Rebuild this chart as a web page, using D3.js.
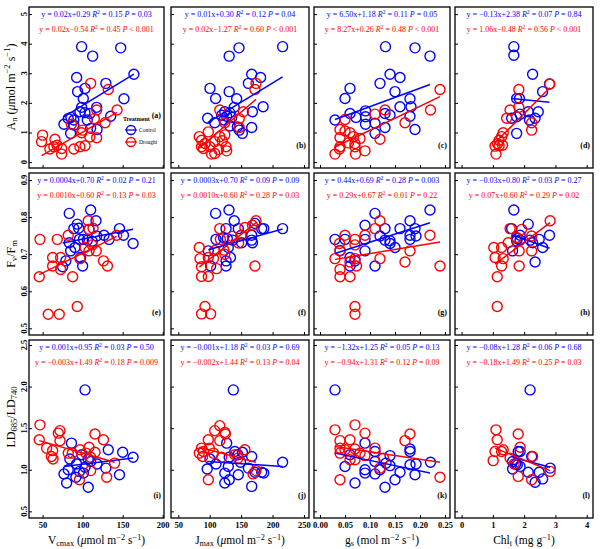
<!DOCTYPE html>
<html><head><meta charset="utf-8">
<script src="https://cdn.jsdelivr.net/npm/d3@7"></script>
<style>
body{margin:0;background:#fff}
svg{display:block}
text{font-family:"Liberation Serif","Times New Roman",serif}
</style></head>
<body><svg id="c" width="600" height="549"></svg>
<script>
// ---------- data ----------
const panelLetters = ["a","b","c","d","e","f","g","h","i","j","k","l"];
const xTicksV = [50,100,150,200];
const xTicksJ = [50,100,150,200,250];
const xTicksG = [0,0.05,0.10,0.15,0.20,0.25];
const xTicksC = [0,1,2,3,4];
const yTicksA = [0,1,2,3,4,5];
const yTicksF = [0.5,0.6,0.7,0.8,0.9];
const yTicksL = [0.5,1.0,1.5,2.0,2.5];

const a_ctrl = [[98.7,3.90],[112.5,3.58],[147.5,3.86],[164,2.97],[92.5,2.86],[129,2.66],[103,2.49],[93.7,2.38],[100.8,2.15],[151.6,2.14],[98.7,1.85],[117.5,1.85],[96.6,1.70],[102.9,1.67],[109,1.64],[135,1.55],[85.4,1.51],[82,1.47],[89,1.42],[76.6,1.28],[89,1.25],[105.8,1.42],[110,1.14],[118,1.10],[85,0.97]];
const a_dr = [[50,0.91],[48.7,0.69],[65.4,0.77],[64,0.52],[59,0.44],[68,0.57],[73.8,0.46],[73.8,0.27],[89,0.44],[96.6,0.52],[103,0.55],[109,0.85],[117.5,0.82],[98.7,0.99],[100,1.08],[86,1.28],[114.6,1.47],[117.5,1.76],[110,2.66],[132,2.45],[143,1.76],[128,1.33]];
const b_ctrl = [[216,3.90],[146.6,3.86],[131,3.58],[166.8,2.97],[181,2.86],[161.5,2.66],[100.4,2.49],[131,2.38],[109.4,2.15],[142.9,2.14],[185,1.87],[139,1.85],[124,1.70],[132,1.67],[127,1.55],[135,1.51],[168,1.70],[96.7,1.48],[108,1.33],[122.7,1.42],[144,1.19],[147,1.08],[152,0.97],[166.8,1.17],[132,1.22],[119,1.58]];
const b_dr = [[173.7,2.66],[172,2.45],[153.5,1.70],[116,1.76],[147,1.47],[124,1.33],[83.4,0.86],[87,0.74],[97.8,1.02],[92.5,0.63],[100.4,0.52],[108,0.29],[103,0.27],[116,0.86],[120,0.72],[126,0.52],[127,0.38],[114,0.43],[90,0.46],[147,1.17],[87,0.52],[124,0.92],[108,0.69]];
const c_ctrl = [[0.131,3.90],[0.19,3.86],[0.22,3.58],[0.14,2.97],[0.16,2.86],[0.12,2.66],[0.06,2.49],[0.05,2.15],[0.15,2.38],[0.18,2.14],[0.16,1.87],[0.182,1.87],[0.06,1.64],[0.091,1.73],[0.091,1.53],[0.072,1.51],[0.03,1.42],[0.13,1.64],[0.14,1.59],[0.18,1.55],[0.091,1.28],[0.11,1.31],[0.13,1.17],[0.11,0.97],[0.19,1.10]];
const c_dr = [[0.24,2.45],[0.221,1.76],[0.17,1.33],[0.13,1.76],[0.11,1.62],[0.12,0.77],[0.05,1.44],[0.04,1.10],[0.06,0.99],[0.04,0.83],[0.067,0.86],[0.08,0.80],[0.07,0.63],[0.04,0.52],[0.039,0.44],[0.03,0.27],[0.07,0.52],[0.071,0.27],[0.09,0.38],[0.057,0.65],[0.05,1.05]];
const d_ctrl = [[1.67,3.90],[1.67,3.61],[2.27,2.97],[2.59,2.38],[2.81,2.64],[1.76,2.15],[1.85,2.15],[2.13,1.70],[2.45,1.70],[1.87,1.62],[1.6,1.48],[1.76,1.53],[2.17,1.42],[2.35,1.48],[1.76,0.97]];
const d_dr = [[2.82,2.64],[1.83,2.45],[1.55,1.76],[1.83,1.85],[1.44,1.48],[2.24,1.33],[2.24,1.08],[1.33,0.99],[1.28,0.86],[1.2,0.74],[1.07,0.54],[1.31,0.57],[1.1,0.27],[1.15,0.62],[1.2,0.55]];
const e_ctrl = [[83.3,0.81],[110,0.819],[116.7,0.79],[93.3,0.781],[89,0.769],[108,0.767],[146,0.769],[163,0.729],[151,0.751],[126.7,0.751],[117.5,0.749],[133,0.74],[83.3,0.731],[96,0.74],[101,0.74],[106,0.738],[90.4,0.718],[85,0.709],[97.5,0.691],[100,0.668],[79,0.682],[75,0.666],[112,0.735],[95,0.77]];
const e_dr = [[46.7,0.74],[45.8,0.639],[57,0.538],[70.8,0.538],[93.3,0.559],[62.5,0.691],[72.5,0.691],[62.5,0.668],[72.5,0.659],[68.3,0.74],[82,0.751],[87.5,0.639],[96.7,0.688],[107,0.79],[108,0.767],[102.9,0.718],[108,0.709],[117,0.709],[126,0.682],[131,0.668],[142.5,0.751],[113,0.77],[112,0.725]];
const f_ctrl = [[109.4,0.81],[130.7,0.819],[139,0.79],[126,0.769],[145.5,0.769],[172,0.783],[182.7,0.769],[186,0.769],[216,0.769],[166.8,0.751],[150,0.751],[166.8,0.738],[168,0.731],[150.8,0.731],[136.5,0.738],[128,0.742],[110,0.74],[97.8,0.709],[129.6,0.718],[133,0.691],[126,0.682],[126,0.668],[101.5,0.668],[122,0.745]];
const f_dr = [[83.4,0.718],[84.5,0.688],[87,0.666],[87,0.64],[97.8,0.64],[92.5,0.559],[87,0.539],[101.5,0.539],[97.8,0.691],[106,0.688],[111,0.661],[116,0.769],[117,0.74],[122.7,0.711],[124,0.7],[156,0.772],[173.7,0.79],[168,0.778],[172,0.668],[150,0.75],[146,0.73],[136,0.748],[108,0.71]];
const g_ctrl = [[0.11,0.81],[0.22,0.819],[0.09,0.778],[0.13,0.769],[0.18,0.79],[0.16,0.769],[0.19,0.769],[0.03,0.74],[0.05,0.74],[0.09,0.74],[0.12,0.749],[0.13,0.738],[0.14,0.736],[0.14,0.729],[0.18,0.751],[0.18,0.74],[0.192,0.749],[0.15,0.718],[0.09,0.709],[0.06,0.691],[0.07,0.682],[0.06,0.668],[0.11,0.668],[0.04,0.71]];
const g_dr = [[0.12,0.79],[0.11,0.769],[0.05,0.751],[0.039,0.729],[0.07,0.74],[0.09,0.751],[0.07,0.725],[0.04,0.709],[0.03,0.688],[0.07,0.688],[0.06,0.679],[0.073,0.668],[0.04,0.659],[0.04,0.639],[0.06,0.639],[0.12,0.688],[0.17,0.679],[0.18,0.709],[0.22,0.751],[0.24,0.668],[0.07,0.559],[0.07,0.538]];
const h_ctrl = [[1.67,0.819],[2.13,0.781],[1.6,0.769],[1.87,0.751],[1.78,0.742],[1.76,0.736],[1.87,0.738],[2.19,0.738],[2.27,0.731],[2.48,0.74],[2.59,0.718],[2.81,0.751],[1.63,0.709],[2.35,0.679]];
const h_dr = [[2.83,0.79],[1.55,0.769],[1.92,0.767],[2.24,0.749],[1.49,0.731],[1.03,0.718],[1.28,0.718],[1.07,0.691],[1.33,0.688],[1.28,0.668],[1.84,0.668],[2.24,0.709],[1.84,0.709],[1.14,0.639],[1.14,0.559],[1.75,0.745]];
const i_ctrl = [[103,1.96],[86,1.32],[132,1.24],[150,1.21],[163,1.15],[98.8,1.18],[84,1.13],[107,1.13],[118,1.07],[92.5,1.07],[103,1.03],[129,1.02],[96,0.98],[76.7,0.95],[82,1.0],[91.6,0.91],[146,0.94],[80,0.84],[107,0.79],[101,0.96],[110,1.1]];
const i_dr = [[46.7,1.54],[45.8,1.36],[71.7,1.47],[69.6,1.44],[71.7,1.35],[55,1.26],[62.5,1.23],[61,1.16],[63,1.13],[82,1.2],[115.4,1.43],[126,1.36],[96.7,1.24],[108,1.27],[115.4,1.21],[110,1.15],[140,1.08],[130,0.91],[96,0.88],[110,0.99],[87,1.2],[104,1.2]];
const j_ctrl = [[137.6,1.96],[127,1.32],[140,1.22],[152,1.21],[145,1.18],[100.4,1.13],[110,1.07],[129.6,1.04],[131,1.15],[166.8,1.16],[149,1.09],[161.5,1.02],[172,0.97],[182.7,0.97],[186,0.96],[216,1.09],[96,1.01],[124,0.96],[145.5,0.94],[124,0.84],[131,0.88],[166.8,0.80]];
const j_dr = [[108,1.47],[116,1.53],[124,1.45],[125,1.43],[97.8,1.36],[116,1.35],[87,1.26],[83.4,1.2],[90,1.22],[99.4,1.26],[88.7,1.16],[156,1.24],[140,1.18],[119,1.15],[169,0.95],[173.7,0.99],[97.8,0.88],[145,1.14],[106,1.2]];
const k_ctrl = [[0.03,1.96],[0.09,1.32],[0.18,1.25],[0.18,1.22],[0.11,1.22],[0.14,1.17],[0.06,1.18],[0.05,1.04],[0.11,1.10],[0.132,1.08],[0.14,1.05],[0.18,1.06],[0.192,1.07],[0.221,1.09],[0.09,1.00],[0.09,0.96],[0.11,0.95],[0.12,1.0],[0.16,0.97],[0.19,0.94],[0.15,0.88],[0.07,0.84],[0.13,0.79]];
const k_dr = [[0.03,1.48],[0.07,1.54],[0.09,1.44],[0.04,1.35],[0.06,1.36],[0.04,1.26],[0.05,1.24],[0.07,1.25],[0.08,1.2],[0.04,1.2],[0.11,1.26],[0.07,1.12],[0.06,1.12],[0.127,1.14],[0.12,1.02],[0.17,1.35],[0.18,1.43],[0.04,0.88],[0.24,0.91],[0.09,1.17]];
const l_ctrl = [[2.19,1.96],[1.81,1.22],[1.87,1.22],[2.24,1.16],[1.63,1.10],[1.78,1.06],[1.87,1.04],[1.63,1.01],[1.73,1.07],[2.13,0.97],[2.48,0.97],[2.59,0.89],[2.35,0.85],[2.83,1.02]];
const l_dr = [[1.1,1.48],[1.14,1.36],[1.81,1.43],[1.87,1.27],[1.07,1.22],[1.28,1.22],[1.33,1.24],[1.01,1.11],[1.55,1.14],[2.27,1.16],[1.81,0.92],[2.24,0.88],[2.83,0.98],[1.68,1.07]];

// fitted lines: [x1,y1,x2,y2]
const lineCtrl = [[76.6,1.53,164,2.97],[96.7,1.33,216,2.88],[0.03,1.44,0.22,2.62],[1.6,2.15,2.81,2.02],
  [75,0.73,163,0.767],[97.8,0.712,216,0.768],[0.03,0.702,0.22,0.785],[1.6,0.752,2.81,0.716],
  [76.7,1.04,163,1.14],[96,1.10,216,1.04],[0.03,1.20,0.22,0.96],[1.63,1.15,2.83,1.03]];
const lineDr = [[48.7,0.22,143,1.68],[83.4,0.47,173.7,2.12],[0.03,0.51,0.24,2.21],[1.07,0.65,2.82,2.51],
  [45.8,0.645,142.5,0.748],[83.4,0.665,173.7,0.785],[0.03,0.686,0.24,0.733],[1.07,0.673,2.83,0.785],
  [45.8,1.35,140,1.09],[83.4,1.27,173.7,1.09],[0.03,1.28,0.24,1.09],[1.07,1.26,2.83,0.99]];

const eqCtrl = ["y = 0.02x+0.29","y = 0.01x+0.30","y = 6.50x+1.18","y = \u22120.13x+2.38",
  "y = 0.0004x+0.70","y = 0.0003x+0.70","y = 0.44x+0.69","y = \u22120.03x+0.80",
  "y = 0.001x+0.95","y = \u22120.001x+1.18","y = \u22121.32x+1.25","y = \u22120.08x+1.28"];
const r2Ctrl = ["0.15","0.12","0.11","0.07","0.02","0.09","0.28","0.03","0.03","0.03","0.05","0.06"];
const pCtrl = ["= 0.03","= 0.04","= 0.05","= 0.84","= 0.21","= 0.09","= 0.003","= 0.27","= 0.50","= 0.69","= 0.13","= 0.68"];
const eqDr = ["y = 0.02x\u22120.54","y = 0.02x\u22121.27","y = 8.27x+0.26","y = 1.06x\u22120.48",
  "y = 0.0010x+0.60","y = 0.0010x+0.60","y = 0.29x+0.67","y = 0.07x+0.60",
  "y = \u22120.003x+1.49","y = \u22120.002x+1.44","y = \u22120.94x+1.31","y = \u22120.18x+1.49"];
const r2Dr = ["0.45","0.60","0.48","0.56","0.13","0.28","0.01","0.29","0.18","0.13","0.12","0.25"];
const pDr = ["< 0.001","< 0.001","< 0.001","< 0.001","= 0.03","= 0.03","= 0.22","= 0.02","= 0.009","= 0.04","= 0.09","= 0.03"];

const ctrlData = [a_ctrl,b_ctrl,c_ctrl,d_ctrl,e_ctrl,f_ctrl,g_ctrl,h_ctrl,i_ctrl,j_ctrl,k_ctrl,l_ctrl];
const drData = [a_dr,b_dr,c_dr,d_dr,e_dr,f_dr,g_dr,h_dr,i_dr,j_dr,k_dr,l_dr];

// ---------- layout ----------
const BLUE = "#0000ff", RED = "#ff0000";
const colX = [[29,164],[171,309],[314,450],[455,593]];
const rowY = [[7,168],[173,335],[340,518]];
const xDomains = [[33,201.6],[38.4,258],[-0.012,0.26],[-0.21,4.2]];
const yDomains = [[-0.2,5.24],[0.482,0.919],[0.42,2.56]];
const xTickSets = [xTicksV,xTicksJ,xTicksG,xTicksC];
const yTickSets = [yTicksA,yTicksF,yTicksL];
const xFmt = [d3.format("d"),d3.format("d"),d3.format(".2f"),d3.format("d")];
const yFmt = [d3.format("d"),d3.format(".1f"),d3.format(".1f")];

const svg = d3.select("#c");

function rich(sel, parts, fs){
  let shift = 0;
  parts.forEach(p=>{
    const ts = sel.append("tspan").text(p.t);
    const target = p.sub ? fs*0.2 : (p.sup ? -fs*0.38 : 0);
    const dy = target - shift;
    if (dy !== 0) ts.attr("dy", dy);
    shift = target;
    if (p.sub || p.sup) ts.attr("font-size", fs*0.72);
    if (p.it) ts.attr("font-style","italic");
  });
}

for (let r=0;r<3;r++){
  for (let c=0;c<4;c++){
    const idx = r*4+c;
    const [x0,x1] = colX[c], [y0,y1] = rowY[r];
    const xs = d3.scaleLinear().domain(xDomains[c]).range([x0,x1]);
    const ys = d3.scaleLinear().domain(yDomains[r]).range([y1,y0]);
    const g = svg.append("g");

    // axes with inward ticks
    const xa = d3.axisBottom(xs).tickValues(xTickSets[c]).tickSize(-3).tickPadding(4).tickFormat(r===2 ? xFmt[c] : "");
    const gx = g.append("g").attr("transform",`translate(0,${y1})`).call(xa);
    const ya = d3.axisLeft(ys).tickValues(yTickSets[r]).tickSize(-3).tickFormat("");
    const gy = g.append("g").attr("transform",`translate(${x0},0)`).call(ya);
    [gx,gy].forEach(a=>{a.select(".domain").remove(); a.selectAll("line").attr("stroke","#000").attr("stroke-width",1);});
    gx.selectAll("text").attr("font-family","Liberation Serif").attr("font-weight","bold").attr("font-size",8.5).attr("fill","#000");
    if (c===0){
      yTickSets[r].forEach(v=>{
        g.append("text").attr("transform",`translate(${x0-2},${ys(v)}) rotate(-90)`)
          .attr("text-anchor","middle").attr("font-weight","bold").attr("font-size",8.5).text(yFmt[r](v));
      });
    }

    // points
    const plot = g.append("g");
    plot.selectAll("circle.c").data(ctrlData[idx]).join("circle")
      .attr("cx",d=>xs(d[0])).attr("cy",d=>ys(d[1])).attr("r",5)
      .attr("fill","none").attr("stroke",BLUE).attr("stroke-width",1.4);
    plot.selectAll("circle.d").data(drData[idx]).join("circle")
      .attr("cx",d=>xs(d[0])).attr("cy",d=>ys(d[1])).attr("r",5)
      .attr("fill","none").attr("stroke",RED).attr("stroke-width",1.4);
    const lc = lineCtrl[idx], ld = lineDr[idx];
    plot.append("line").attr("x1",xs(lc[0])).attr("y1",ys(lc[1])).attr("x2",xs(lc[2])).attr("y2",ys(lc[3]))
      .attr("stroke",BLUE).attr("stroke-width",1.5);
    plot.append("line").attr("x1",xs(ld[0])).attr("y1",ys(ld[1])).attr("x2",xs(ld[2])).attr("y2",ys(ld[3]))
      .attr("stroke",RED).attr("stroke-width",1.5);

    // frame
    g.append("rect").attr("x",x0).attr("y",y0).attr("width",x1-x0).attr("height",y1-y0)
      .attr("fill","none").attr("stroke","#000").attr("stroke-width",1.3);

    // equations
    const cx = (x0+x1)/2;
    const t1 = g.append("text").attr("x",cx).attr("y",y0+10).attr("text-anchor","middle").attr("font-size",8).attr("fill",BLUE);
    rich(t1,[{t:eqCtrl[idx]+" "},{t:"R",it:true},{t:"2",sup:true},{t:" = "+r2Ctrl[idx]+" "},{t:"P",it:true},{t:" "+pCtrl[idx]}],8);
    const t2 = g.append("text").attr("x",cx).attr("y",y0+25).attr("text-anchor","middle").attr("font-size",8).attr("fill",RED);
    rich(t2,[{t:eqDr[idx]+" "},{t:"R",it:true},{t:"2",sup:true},{t:" = "+r2Dr[idx]+" "},{t:"P",it:true},{t:" "+pDr[idx]}],8);

    // panel letter
    const ly = (idx===0) ? 118 : y1-20;
    g.append("text").attr("x",x1-3).attr("y",ly).attr("text-anchor","end").attr("font-size",8).attr("font-weight","bold").text("("+panelLetters[idx]+")");
  }
}

// legend in panel a
const lg = svg.append("g");
lg.append("text").attr("x",123).attr("y",121).attr("font-family","Liberation Sans").attr("font-weight","bold").attr("font-size",6).text("Treatment");
[["Control",BLUE,130],["Drought",RED,142]].forEach(([lab,col,y])=>{
  lg.append("circle").attr("cx",131).attr("cy",y).attr("r",4.5).attr("fill","none").attr("stroke",col).attr("stroke-width",1.3);
  lg.append("line").attr("x1",125).attr("x2",137).attr("y1",y).attr("y2",y).attr("stroke",col).attr("stroke-width",1.3);
  lg.append("text").attr("x",139).attr("y",y+2).attr("font-family","Liberation Sans").attr("font-size",5.5).text(lab);
});

// axis titles
const fsT = 11.5;
const xt = [
  [{t:"V"},{t:"cmax",sub:true},{t:" ("},{t:"\u03bc",it:true},{t:"mol m"},{t:"\u22122",sup:true},{t:" s"},{t:"\u22121",sup:true},{t:")"}],
  [{t:"J"},{t:"max",sub:true},{t:" ("},{t:"\u03bc",it:true},{t:"mol m"},{t:"\u22122",sup:true},{t:" s"},{t:"\u22121",sup:true},{t:")"}],
  [{t:"g"},{t:"s",sub:true},{t:" (mol m"},{t:"\u22122",sup:true},{t:" s"},{t:"\u22121",sup:true},{t:")"}],
  [{t:"Chl"},{t:"t",sub:true},{t:" (mg g"},{t:"\u22121",sup:true},{t:")"}]
];
xt.forEach((parts,c)=>{
  const t = svg.append("text").attr("x",(colX[c][0]+colX[c][1])/2).attr("y",544).attr("text-anchor","middle").attr("font-size",fsT);
  rich(t,parts,fsT);
});
const yt = [
  [{t:"A"},{t:"n",sub:true},{t:" ("},{t:"\u03bc",it:true},{t:"mol m"},{t:"\u22122",sup:true},{t:" s"},{t:"\u22121",sup:true},{t:")"}],
  [{t:"F"},{t:"v",sub:true},{t:"/F"},{t:"m",sub:true}],
  [{t:"LD"},{t:"685",sub:true},{t:"/LD"},{t:"740",sub:true}]
];
const ytY = [87,254,417];
yt.forEach((parts,r)=>{
  const t = svg.append("text").attr("transform",`translate(15,${ytY[r]}) rotate(-90)`).attr("text-anchor","middle").attr("font-size",12);
  rich(t,parts,12);
});
</script>
</body></html>
